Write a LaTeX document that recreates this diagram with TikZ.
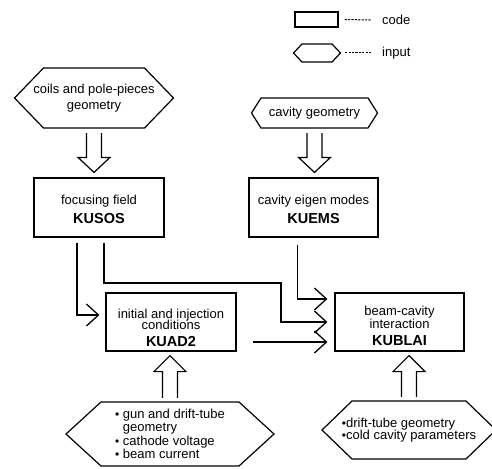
\documentclass[tikz,border=0pt]{standalone}
\usepackage{fontspec}
\setmainfont{Liberation Sans}
\usetikzlibrary{arrows.meta,calc}
\tikzset{
  codebox/.style={draw, line width=1.2pt, inner sep=0pt, align=center, font=\fontsize{13}{13.5}\selectfont},
  inbox/.style={inner sep=0pt, align=center, font=\fontsize{13}{13.5}\selectfont},
  conn/.style={line width=1.3pt, -{Straight Barb[length=12pt,width=22pt,line width=1.3pt,line join=miter]}},
  hollow/.style={line width=1.2pt, line join=miter},
  legdash/.style={line width=1pt, dash pattern=on 2.2pt off 1.2pt},
  frameline/.style={line width=1.2pt, line join=miter},
}
\newcommand\hexframe[4]{% node, half top width, half height, inset
  \draw[frameline] ([shift={(-#2,-#3)}]#1.center) -- ([shift={(#2,-#3)}]#1.center)
    -- ([shift={(#2+#4,0)}]#1.center) -- ([shift={(#2,#3)}]#1.center)
    -- ([shift={(-#2,#3)}]#1.center) -- ([shift={(-#2-#4,0)}]#1.center) -- cycle;}
\newcommand\codename[1]{{\fontsize{14.5}{16}\selectfont\bfseries #1}}
\newcommand\bul{{\fontsize{12}{12}\selectfont•}}
\newcommand\hollowdown[2]{\draw[hollow] let \p1=(#1.south), \p2=(#2.north) in
  (\x1-7.5pt,\y1-5pt) -- (\x1-7.5pt,\y2+20pt) -- (\x1-16pt,\y2+20pt) -- (\x1,\y2+5pt)
  -- (\x1+16pt,\y2+20pt) -- (\x1+7.5pt,\y2+20pt) -- (\x1+7.5pt,\y1-5pt);}
\newcommand\hollowup[2]{\draw[hollow] let \p1=(#1.north), \p2=(#2.south) in
  (\x1-7.5pt,\y1+4pt) -- (\x1-7.5pt,\y2-20pt) -- (\x1-16pt,\y2-20pt) -- (\x1,\y2-4pt)
  -- (\x1+16pt,\y2-20pt) -- (\x1+7.5pt,\y2-20pt) -- (\x1+7.5pt,\y1+4pt);}
\begin{document}
\begin{tikzpicture}[x=1pt,y=-1pt]
\useasboundingbox (0,0) rectangle (492,468);

% legend
\node[draw, line width=1.2pt, minimum width=43pt, minimum height=15pt, inner sep=0pt] (legcode) at (316.5,19.5) {};
\node[inbox, anchor=west] (legcodetxt) at (382,20) {code};
\draw[legdash] ([xshift=6pt]legcode.east) -- ([xshift=-11pt]legcodetxt.west);
\node[inner sep=0pt, minimum width=30pt, minimum height=18pt] (leginput) at (317,53) {};
\hexframe{leginput}{15}{9}{8.5}
\node[inbox, anchor=west] (leginputtxt) at (382,53) {input};
\draw[legdash] ([xshift=13pt]leginput.east) -- ([xshift=-10pt]leginputtxt.west);

% inputs
\node[inbox, minimum height=60pt] (coils) at (94,98) {coils and pole-pieces\\[2pt]geometry};
\hexframe{coils}{50.5}{30}{29}
\node[inbox, minimum height=30pt] (cavgeo) at (314.5,113) {cavity geometry};
\hexframe{cavgeo}{53.5}{15}{9.5}
\node[inbox, minimum height=64pt, align=left, font=\fontsize{13}{13.5}\selectfont] (gunin) at (170,434)
  {\bul\ gun and drift-tube\\\phantom{\bul\ }geometry\\\bul\ cathode voltage\\\bul\ beam current};
\hexframe{gunin}{69}{32}{35}
\node[inbox, minimum height=58pt, align=left, font=\fontsize{13}{12.5}\selectfont] (cavin) at (409,430)
  {\bul drift-tube geometry\\\bul cold cavity parameters};
\hexframe{cavin}{57}{29}{30}

% codes
\node[codebox, minimum width=130pt, minimum height=59pt] (kusos) at (99,207.5)
  {\rule{0pt}{13pt}focusing field\\[5pt]\codename{KUSOS}};
\node[codebox, minimum width=129pt, minimum height=59pt] (kuems) at (313.5,207.5)
  {\rule{0pt}{13pt}cavity eigen modes\\[5pt]\codename{KUEMS}};
\node[codebox, minimum width=130pt, minimum height=58pt] (kuad) at (171,322)
  {\rule{0pt}{21pt}initial and injection\\[-2pt]conditions\\[3pt]\codename{KUAD2}};
\node[codebox, minimum width=129pt, minimum height=58pt] (kublai) at (399.5,322)
  {\rule{0pt}{17pt}beam-cavity\\interaction\\[3pt]\codename{KUBLAI}};

% hollow arrows
\hollowdown{coils}{kusos}
\hollowdown{cavgeo}{kuems}
\hollowup{gunin}{kuad}
\hollowup{cavin}{kublai}

% connectors
\coordinate (bend) at (281,283);
\draw[conn] ([shift={(-22,5)}]kusos.south) |- ([shift={(-6,-7)}]kuad.west);
\draw[conn] ([shift={(5,5)}]kusos.south) |- (bend) |- ([xshift=-7pt]kublai.west);
\draw[conn] ([shift={(-16,7)}]kuems.south) |- ([shift={(-7,-23)}]kublai.west);
\draw[conn] ([shift={(16,20)}]kuad.east) -- ([shift={(-7,20)}]kublai.west);
\end{tikzpicture}
\end{document}
